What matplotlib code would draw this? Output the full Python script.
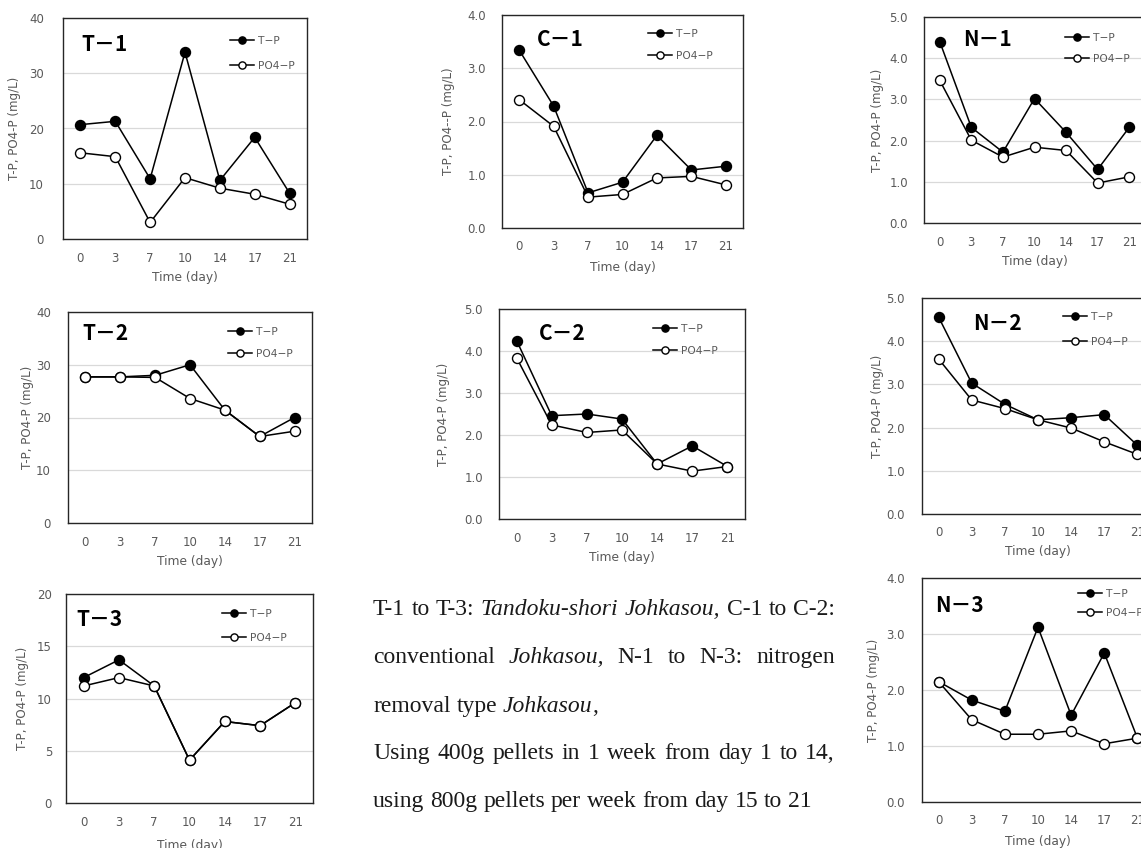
import matplotlib
matplotlib.use("Agg")
import matplotlib.pyplot as plt
from matplotlib.ticker import FixedLocator, FixedFormatter

# ---------------- data ----------------
days = ["0", "3", "7", "10", "14", "17", "21"]

t1_tp = [20.7, 21.3, 10.9, 33.8, 10.6, 18.4, 8.3]
t1_po4 = [15.6, 14.9, 3.0, 11.1, 9.2, 8.1, 6.3]
t2_tp = [27.7, 27.7, 28.0, 30.0, 21.4, 16.4, 20.0]
t2_po4 = [27.7, 27.7, 27.6, 23.6, 21.4, 16.4, 17.4]
t3_tp = [12.0, 13.7, 11.2, 4.1, 7.8, 7.4, 9.6]
t3_po4 = [11.2, 12.0, 11.2, 4.1, 7.8, 7.4, 9.6]
c1_tp = [3.34, 2.29, 0.66, 0.86, 1.74, 1.09, 1.16]
c1_po4 = [2.41, 1.91, 0.58, 0.63, 0.94, 0.97, 0.81]
c2_tp = [4.25, 2.46, 2.50, 2.38, 1.31, 1.74, 1.25]
c2_po4 = [3.84, 2.24, 2.06, 2.12, 1.31, 1.14, 1.25]
n1_tp = [4.40, 2.32, 1.72, 3.02, 2.20, 1.30, 2.32]
n1_po4 = [3.46, 2.01, 1.60, 1.84, 1.76, 0.97, 1.12]
n2_tp = [4.56, 3.03, 2.54, 2.18, 2.23, 2.30, 1.59]
n2_po4 = [3.59, 2.64, 2.44, 2.18, 1.99, 1.67, 1.38]
n3_tp = [2.15, 1.82, 1.62, 3.12, 1.55, 2.66, 1.14]
n3_po4 = [2.15, 1.47, 1.21, 1.21, 1.27, 1.04, 1.14]

panel_titles = ["T－1", "T－2", "T－3", "C－1", "C－2", "N－1", "N－2", "N－3"]
y_ticks_T1 = [0, 10, 20, 30, 40]
y_ticks_T3 = [0, 5, 10, 15, 20]
y_ticks_4 = [0.0, 1.0, 2.0, 3.0, 4.0]
y_ticks_5 = [0.0, 1.0, 2.0, 3.0, 4.0, 5.0]
ylabel_std = "T-P, PO4-P (mg/L)"
ylabel_c1 = "T-P, PO4--P (mg/L)"
xlabel = "Time (day)"
legend_labels = ["T−P", "PO4−P"]

note_lines = [
    "T-1 to T-3: *Tandoku-shori Johkasou,* C-1 to C-2:",
    "conventional *Johkasou,* N-1 to N-3: nitrogen",
    "removal type *Johkasou*,",
    "Using 400g pellets in 1 week from day 1 to 14,",
    "using 800g pellets per week from day 15 to 21",
]
note_justify = [True, True, False, True, False]

# ---------------- layout (pixels) ----------------
W, H = 1141, 848
DPI = 100
fig = plt.figure(figsize=(W / DPI, H / DPI), dpi=DPI)
fig.patch.set_facecolor("white")

SANS = ["DejaVu Sans"]
TITLE_FONT = ["Noto Sans CJK JP", "DejaVu Sans"]
GRAY = "#595959"

panels = [
    dict(title=panel_titles[0], tp=t1_tp, po=t1_po4, ticks=y_ticks_T1, fmt="{:.0f}", ylab=ylabel_std,
         rect=(63, 18, 307, 239), tpos=(18, 27), leg=(230, 24, 28), ylx=48, ypad=19, xl=38),
    dict(title=panel_titles[1], tp=t2_tp, po=t2_po4, ticks=y_ticks_T1, fmt="{:.0f}", ylab=ylabel_std,
         rect=(68, 312, 312, 523), tpos=(14, 21), leg=(228, 21, 25), ylx=41, ypad=17, xl=39),
    dict(title=panel_titles[2], tp=t3_tp, po=t3_po4, ticks=y_ticks_T3, fmt="{:.0f}", ylab=ylabel_std,
         rect=(66, 594, 313, 803), tpos=(10, 26), leg=(222, 21, 27), ylx=43, ypad=14, xl=42),
    dict(title=panel_titles[3], tp=c1_tp, po=c1_po4, ticks=y_ticks_4, fmt="{:.1f}", ylab=ylabel_c1,
         rect=(502, 15, 743, 228), tpos=(35, 24), leg=(648, 20, 25), ylx=53, ypad=16, xl=39),
    dict(title=panel_titles[4], tp=c2_tp, po=c2_po4, ticks=y_ticks_5, fmt="{:.1f}", ylab=ylabel_std,
         rect=(499, 309, 745, 519), tpos=(40, 24), leg=(653, 21, 25), ylx=56, ypad=16, xl=39),
    dict(title=panel_titles[5], tp=n1_tp, po=n1_po4, ticks=y_ticks_5, fmt="{:.1f}", ylab=ylabel_std,
         rect=(924, 17, 1145, 223), tpos=(39, 22), leg=(1065, 22, 24), ylx=46, ypad=16, xl=39),
    dict(title=panel_titles[6], tp=n2_tp, po=n2_po4, ticks=y_ticks_5, fmt="{:.1f}", ylab=ylabel_std,
         rect=(922, 298, 1154, 514), tpos=(51, 25), leg=(1063, 20, 28), ylx=44, ypad=17, xl=38),
    dict(title=panel_titles[7], tp=n3_tp, po=n3_po4, ticks=y_ticks_4, fmt="{:.1f}", ylab=ylabel_std,
         rect=(922, 578, 1154, 802), tpos=(13, 27), leg=(1078, 17, 22), ylx=49, ypad=17, xl=40),
]

LEG_FS = 7.7
leg_px = LEG_FS * DPI / 72.0

for p in panels:
    l, t, r, b = p["rect"]
    w, h = r - l, b - t
    ax = fig.add_axes([l / W, 1 - b / H, w / W, h / H])
    x = list(range(len(days)))
    ax.plot(x, p["tp"], color="black", lw=1.1, marker="o", ms=7.2,
            mfc="black", mec="black", mew=1.0, label=legend_labels[0], zorder=3)
    ax.plot(x, p["po"], color="black", lw=1.1, marker="o", ms=7.2,
            mfc="white", mec="black", mew=1.0, label=legend_labels[1], zorder=4)
    ax.set_xlim(-0.5, len(days) - 0.5)
    ax.set_ylim(p["ticks"][0], p["ticks"][-1])
    ax.xaxis.set_major_locator(FixedLocator(x))
    ax.xaxis.set_major_formatter(FixedFormatter(days))
    ax.yaxis.set_major_locator(FixedLocator(p["ticks"]))
    ax.yaxis.set_major_formatter(FixedFormatter([p["fmt"].format(v) for v in p["ticks"]]))
    ax.grid(axis="y", color="#d9d9d9", lw=0.9)
    ax.set_axisbelow(True)
    for s in ax.spines.values():
        s.set_color("#262626")
        s.set_linewidth(1.0)
    ax.tick_params(axis="x", length=0, pad=9, labelsize=8.5, labelcolor=GRAY)
    ax.tick_params(axis="y", length=0, pad=p["ypad"] * 72 / DPI, labelsize=8.5, labelcolor=GRAY)
    for lab in ax.get_xticklabels() + ax.get_yticklabels():
        lab.set_fontfamily(SANS)
    ax.set_ylabel(p["ylab"], fontsize=8.6, color=GRAY, family=SANS)
    ax.yaxis.set_label_coords(-p["ylx"] / w, 0.5)
    ax.yaxis.label.set_va("center")
    ax.set_xlabel(xlabel, fontsize=8.8, color=GRAY, family=SANS)
    ax.xaxis.set_label_coords(0.5, -p["xl"] / h)
    ax.xaxis.label.set_va("center")

    # panel title
    ax.text(p["tpos"][0] / w, 1 - p["tpos"][1] / h, p["title"], transform=ax.transAxes,
            ha="left", va="center", fontsize=15, fontweight="bold", color="black",
            family=TITLE_FONT)

    # legend
    lx, ldy, lsp = p["leg"]
    row_h = leg_px * 1.17
    spacing = (lsp - row_h) / leg_px
    ax.legend(loc="upper left", bbox_to_anchor=((lx - l) / w, 1 - (ldy - row_h / 2) / h),
              frameon=False, labelcolor=GRAY, borderpad=0,
              borderaxespad=0, handlelength=2.2, handletextpad=0.45,
              labelspacing=max(spacing, 0.1), markerscale=0.72,
              prop={"family": SANS, "size": LEG_FS})

# ---------------- justified note text ----------------
SERIF = "Liberation Serif"
NOTE_FS = 17.0
left_px, right_px = 373, 835
baselines = [615, 663, 712, 759, 807]
renderer = fig.canvas.get_renderer()
space_px = 0.25 * NOTE_FS * DPI / 72.0


def parse_words(line):
    words = []
    italic = False
    for raw in line.split(" "):
        pieces = []
        buf = ""
        for ch in raw:
            if ch == "*":
                if buf:
                    pieces.append((buf, italic))
                buf = ""
                italic = not italic
            else:
                buf += ch
        if buf:
            pieces.append((buf, italic))
        if pieces:
            words.append(pieces)
    return words


for line, just, base in zip(note_lines, note_justify, baselines):
    words = parse_words(line)
    objs = []
    widths = []
    for pieces in words:
        wobjs = []
        ww = 0.0
        for txt, it in pieces:
            to = fig.text(0, 0, txt, fontsize=NOTE_FS, family=SERIF,
                          style="italic" if it else "normal", color="#1a1a1a",
                          ha="left", va="baseline")
            ext = to.get_window_extent(renderer)
            wobjs.append((to, ext.width))
            ww += ext.width
        objs.append(wobjs)
        widths.append(ww)
    total = sum(widths)
    if just and len(words) > 1:
        gap = (right_px - left_px - total) / (len(words) - 1)
    else:
        gap = space_px
    xpos = left_px
    for wobjs, ww in zip(objs, widths):
        xx = xpos
        for to, pw in wobjs:
            to.set_position((xx / W, 1 - base / H))
            xx += pw
        xpos += ww + gap

fig.savefig("out.png", dpi=DPI)
